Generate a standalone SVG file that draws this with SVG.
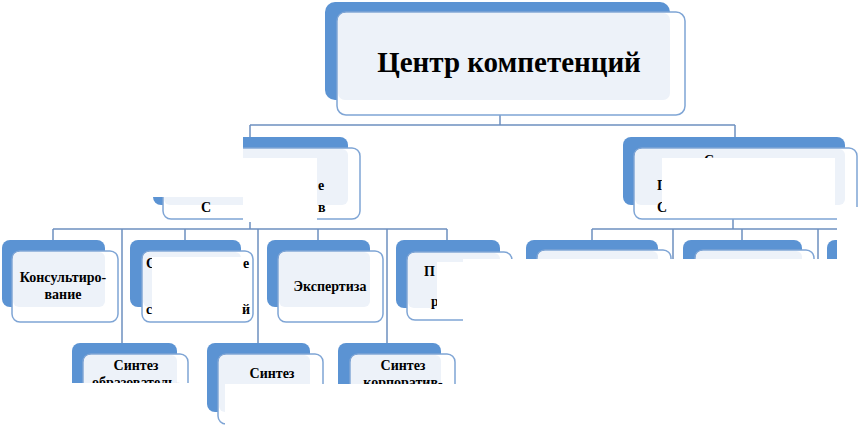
<svg xmlns="http://www.w3.org/2000/svg" width="860" height="425" viewBox="0 0 860 425">
<style>
.back{fill:#5b93d3;}
.front{fill:#ffffff;stroke:#7fa5d5;stroke-width:1.5;}
.inner{fill:#edf2f9;}
.con{fill:none;stroke:#6d90c0;stroke-width:1.5;}
.t{font-family:"Liberation Serif","Times New Roman",serif;font-weight:bold;fill:#000;text-anchor:middle;}
.l{text-anchor:start;}
.s{font-size:14px;}
.occ{fill:#ffffff;}
</style>
<rect width="860" height="425" fill="#ffffff"/>
<g id="connectors">
<path class="con" d="M500 115V125M250 125H735M250 125V137M735 125V137"/>
<path class="con" d="M250 219V229M53 229H447M53 229V240M185 229V240M318 229V240M447 229V240M122 229V343M258 229V343M387 229V343"/>
<path class="con" d="M733 219V229M592 229H837M592 229V240M742 229V240M673 229V262M818 229V262"/>
</g>
<g id="n-top">
<rect class="back" x="325" y="2" width="345" height="98" rx="10"/>
<rect class="front" x="337" y="12" width="348" height="103" rx="9"/>
<rect class="inner" x="338" y="13" width="332" height="87" rx="7"/>
<text class="t" x="509" y="72" font-size="29">Центр компетенций</text>
</g>
<g id="n-left2">
<rect class="back" x="153" y="137" width="195" height="68" rx="8"/>
<rect class="front" x="163" y="148" width="197" height="71" rx="8"/>
<rect class="inner" x="164" y="149" width="184" height="56" rx="6"/>
<text class="t s l" x="318" y="190">е</text>
<text class="t s l" x="318" y="212">в</text>
<text class="t s l" x="201" y="212">С</text>
</g>
<g id="n-right2">
<rect class="back" x="623" y="137" width="222" height="68" rx="8"/>
<rect class="front" x="634" y="148" width="223" height="71" rx="8"/>
<rect class="inner" x="635" y="149" width="210" height="56" rx="6"/>
<text class="t s l" x="704" y="165">С</text>
<text class="t s l" x="657" y="190">П</text>
<text class="t s l" x="657" y="212">С</text>
</g>
<g id="n1">
<rect class="back" x="2" y="240" width="103" height="67" rx="8"/>
<rect class="front" x="12" y="251" width="106" height="71" rx="8"/>
<rect class="inner" x="13" y="252" width="92" height="55" rx="6"/>
<text class="t s" x="63" y="282">Консультиро-</text>
<text class="t s" x="63" y="299">вание</text>
</g>
<g id="n2">
<rect class="back" x="130" y="240" width="111" height="67" rx="8"/>
<rect class="front" x="142" y="251" width="111" height="71" rx="8"/>
<rect class="inner" x="143" y="252" width="98" height="55" rx="6"/>
<text class="t s l" x="146" y="268">С</text>
<text class="t s l" x="243" y="268">е</text>
<text class="t s l" x="146" y="314">с</text>
<text class="t s l" x="242" y="314">й</text>
</g>
<g id="n3">
<rect class="back" x="267" y="240" width="103" height="67" rx="8"/>
<rect class="front" x="278" y="251" width="105" height="71" rx="8"/>
<rect class="inner" x="279" y="252" width="91" height="55" rx="6"/>
<text class="t s" x="330" y="291">Экспертиза</text>
</g>
<g id="n4">
<rect class="back" x="396" y="240" width="104" height="68" rx="8"/>
<rect class="front" x="407" y="252" width="105" height="68" rx="8"/>
<rect class="inner" x="408" y="253" width="92" height="55" rx="6"/>
<text class="t s l" x="424" y="276">П</text>
<text class="t s l" x="431" y="306">р</text>
</g>
<g id="n5">
<rect class="back" x="72" y="343" width="105" height="69" rx="8"/>
<rect class="front" x="83" y="354" width="105" height="70" rx="8"/>
<rect class="inner" x="84" y="355" width="93" height="57" rx="6"/>
<text class="t s" x="136" y="370">Синтез</text>
<text class="t s" x="136" y="387">образователь-</text>
</g>
<g id="n6">
<rect class="back" x="207" y="343" width="103" height="69" rx="8"/>
<rect class="front" x="218" y="354" width="105" height="70" rx="8"/>
<rect class="inner" x="219" y="355" width="91" height="57" rx="6"/>
<text class="t s" x="272" y="378">Синтез</text>
</g>
<g id="n7">
<rect class="back" x="338" y="343" width="103" height="69" rx="8"/>
<rect class="front" x="350" y="354" width="105" height="70" rx="8"/>
<rect class="inner" x="351" y="355" width="90" height="57" rx="6"/>
<text class="t s" x="403" y="370">Синтез</text>
<text class="t s" x="403" y="387">корпоратив-</text>
</g>
<g id="n8">
<rect class="back" x="526" y="240" width="132" height="67" rx="8"/>
<rect class="front" x="537" y="250" width="134" height="71" rx="8"/>
<rect class="inner" x="538" y="251" width="120" height="56" rx="6"/>
</g>
<g id="n9">
<rect class="back" x="683" y="240" width="119" height="67" rx="8"/>
<rect class="front" x="695" y="250" width="119" height="71" rx="8"/>
<rect class="inner" x="696" y="251" width="106" height="56" rx="6"/>
</g>
<g id="n10">
<rect class="back" x="827" y="240" width="60" height="67" rx="8"/>
</g>
<g id="masks">
<rect class="occ" x="140" y="128" width="103" height="69"/>
<rect class="occ" x="243" y="158" width="74" height="64"/>
<rect class="occ" x="662" y="158" width="173" height="51"/>
<rect class="occ" x="837" y="207" width="23" height="55"/>
<rect class="occ" x="152" y="257" width="89" height="53"/>
<rect class="occ" x="437" y="262" width="26" height="50"/>
<rect class="occ" x="463" y="259" width="397" height="166"/>
<rect class="occ" x="60" y="383" width="147" height="42"/>
<rect class="occ" x="225" y="384" width="238" height="41"/>
</g>
</svg>
